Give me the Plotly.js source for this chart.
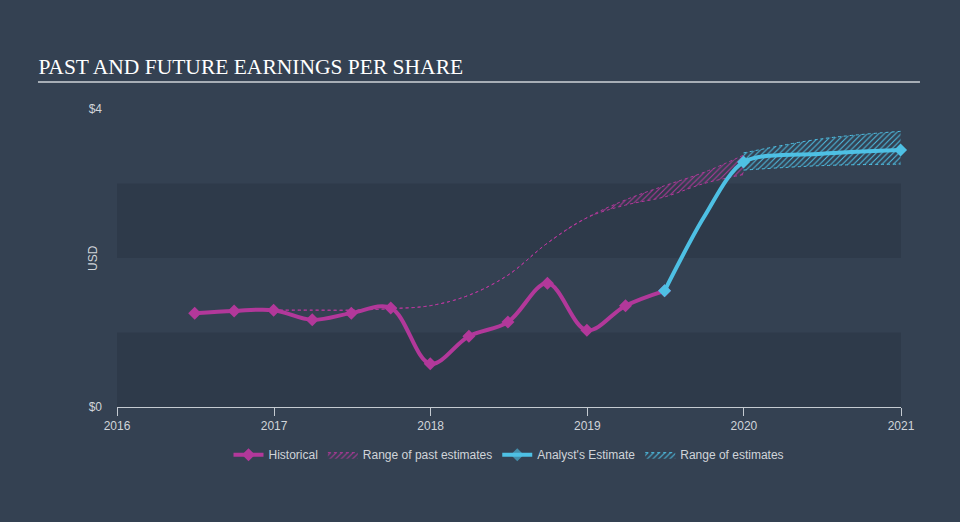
<!DOCTYPE html>
<html>
<head>
<meta charset="utf-8">
<script src="https://cdn.plot.ly/plotly-3.0.1.min.js"></script>
<style>
  html, body { margin: 0; padding: 0; background: #344152; }
  #chart { width: 960px; height: 522px; }
</style>
</head>
<body>
<div id="chart"></div>
<script>
// Historical EPS (quarter ends)
const histDates = ['2016-06-30', '2016-09-30', '2016-12-31', '2017-03-31', '2017-06-30', '2017-09-30',
  '2017-12-31', '2018-03-31', '2018-06-30', '2018-09-30', '2018-12-31', '2019-03-31', '2019-06-30'];
const histEps = [1.26, 1.29, 1.30, 1.17, 1.26, 1.33, 0.58, 0.95, 1.14, 1.66, 1.03, 1.36, 1.56];

// Analyst consensus (only the year-end points and the last actual carry a marker)
const estDates = ['2019-06-30', '2019-09-30', '2019-12-31', '2020-06-30', '2020-12-31'];
const estEps = [1.56, 2.55, 3.29, 3.40, 3.45];
const estMarked = [1, 0, 1, 0, 1];

// Range of future estimates
const rangeDates = ['2019-12-31', '2020-06-30', '2020-12-31'];
const rangeLow = [3.18, 3.24, 3.26];
const rangeHigh = [3.41, 3.60, 3.70];

// Range of past estimates
const pastDates = ['2016-12-31', '2017-03-31', '2017-06-30', '2017-09-30', '2017-12-31', '2018-03-31',
  '2018-06-30', '2018-09-30', '2018-12-31', '2019-03-31', '2019-06-30', '2019-09-30', '2019-12-31'];
const pastLow = [1.30, 1.30, 1.30, 1.32, 1.36, 1.50, 1.77, 2.20, 2.54, 2.71, 2.82, 3.00, 3.12];
const pastHigh = [1.30, 1.30, 1.30, 1.32, 1.36, 1.50, 1.77, 2.20, 2.54, 2.78, 2.97, 3.15, 3.38];

const magenta = '#b2389a';
const cyan = '#4ec0e4';

const traces = [
  {
    x: pastDates, y: pastLow, type: 'scatter', mode: 'lines',
    line: { color: magenta, width: 1, shape: 'spline', dash: 'dot' },
    showlegend: false, hoverinfo: 'skip'
  },
  {
    x: pastDates, y: pastHigh, type: 'scatter', mode: 'lines', name: 'Range of past estimates',
    line: { color: magenta, width: 1, shape: 'spline', dash: 'dot' },
    fill: 'tonexty', fillcolor: 'rgba(0,0,0,0)', legendrank: 2,
    fillpattern: { shape: '/', fgcolor: magenta, bgcolor: 'rgba(0,0,0,0)', size: 4, solidity: 0.25 }
  },
  {
    x: histDates, y: histEps, type: 'scatter', mode: 'lines+markers', name: 'Historical',
    line: { color: magenta, width: 4, shape: 'spline' },
    marker: { symbol: 'diamond', size: 10, color: magenta }, legendrank: 1
  },
  {
    x: rangeDates, y: rangeLow, type: 'scatter', mode: 'lines',
    line: { color: cyan, width: 1, shape: 'spline', dash: 'dot' },
    showlegend: false, hoverinfo: 'skip'
  },
  {
    x: rangeDates, y: rangeHigh, type: 'scatter', mode: 'lines', name: 'Range of estimates',
    line: { color: cyan, width: 1, shape: 'spline', dash: 'dot' },
    fill: 'tonexty', fillcolor: 'rgba(0,0,0,0)', legendrank: 4,
    fillpattern: { shape: '/', fgcolor: cyan, bgcolor: 'rgba(0,0,0,0)', size: 4, solidity: 0.25 }
  },
  {
    x: estDates, y: estEps, type: 'scatter', mode: 'lines+markers', name: "Analyst's Estimate",
    line: { color: cyan, width: 4, shape: 'spline', smoothing: 0.8 },
    marker: { symbol: 'diamond', size: 10, color: cyan, opacity: estMarked, line: { width: 0 } },
    legendrank: 3, cliponaxis: false
  }
];

const layout = {
  width: 960, height: 522,
  paper_bgcolor: '#344152', plot_bgcolor: '#344152',
  margin: { l: 117, r: 59, t: 109, b: 115 },
  title: {
    text: 'PAST AND FUTURE EARNINGS PER SHARE',
    font: { family: 'Liberation Serif, Times New Roman, serif', size: 21.5, color: '#ffffff' },
    xref: 'container', yref: 'container', x: 0.04, xanchor: 'left', y: 0.872, yanchor: 'middle'
  },
  font: { family: 'Liberation Sans Narrow, Liberation Sans, Arial, sans-serif', color: '#d0d4d9', size: 12 },
  xaxis: {
    type: 'date', range: ['2016-01-01', '2021-01-01'],
    tickvals: ['2016-01-01', '2017-01-01', '2018-01-01', '2019-01-01', '2020-01-01', '2021-01-01'],
    ticktext: ['2016', '2017', '2018', '2019', '2020', '2021'],
    showgrid: false, zeroline: false,
    showline: true, linecolor: '#c4cad1', linewidth: 1,
    ticks: 'outside', ticklen: 8, tickcolor: '#c4cad1',
    tickfont: { size: 12, color: '#d0d4d9' }
  },
  yaxis: {
    range: [0, 4], tickvals: [0, 4], ticktext: ['$0', '$4'],
    showgrid: false, zeroline: false, showline: false, ticks: '',
    ticklabelstandoff: 14,
    tickfont: { size: 12, color: '#d0d4d9' }
  },
  annotations: [
    { text: 'USD', xref: 'paper', yref: 'paper', x: -0.0306, y: 0.5, textangle: -90,
      showarrow: false, xanchor: 'center', yanchor: 'middle', font: { size: 12, color: '#d0d4d9' } }
  ],
  shapes: [
    { type: 'rect', xref: 'paper', yref: 'y', x0: 0, x1: 1, y0: 0, y1: 1, fillcolor: '#2e3a4a', line: { width: 0 }, layer: 'below' },
    { type: 'rect', xref: 'paper', yref: 'y', x0: 0, x1: 1, y0: 2, y1: 3, fillcolor: '#2e3a4a', line: { width: 0 }, layer: 'below' },
    { type: 'line', xref: 'paper', yref: 'paper', x0: -0.1008, x1: 1.0242, y0: 1.0906, y1: 1.0906, line: { color: '#a7aeb6', width: 2 } }
  ],
  legend: {
    orientation: 'h', x: 0.5, xanchor: 'center', y: -0.16, yanchor: 'middle',
    font: { family: 'Liberation Sans Narrow, Liberation Sans, Arial, sans-serif', size: 12, color: '#d0d4d9' },
    bgcolor: 'rgba(0,0,0,0)', itemwidth: 30, traceorder: 'normal'
  },
  showlegend: true,
  hovermode: false
};

Plotly.newPlot('chart', traces, layout, { displayModeBar: false, staticPlot: true });
</script>
</body>
</html>
